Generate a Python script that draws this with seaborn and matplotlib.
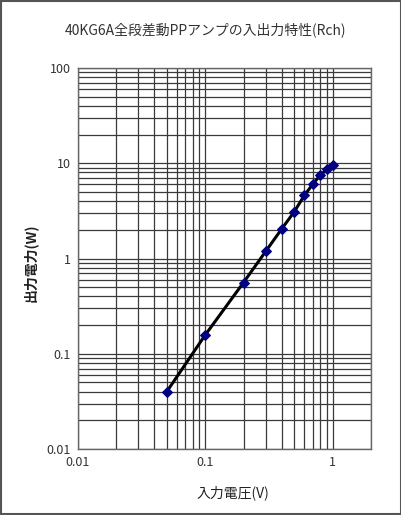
import numpy as np
import pandas as pd
import matplotlib
matplotlib.use("Agg")
import matplotlib.pyplot as plt
import seaborn as sns
from matplotlib.ticker import LogLocator, FixedLocator, NullFormatter

# data
input_v = [0.05, 0.1, 0.2, 0.3, 0.4, 0.5, 0.6, 0.7, 0.8, 0.9, 1.0]
output_w = [0.04, 0.157, 0.56, 1.2, 2.06, 3.1, 4.6, 6.05, 7.5, 8.6, 9.65]
x_ticks = [0.01, 0.1, 1]
x_tick_labels = ["0.01", "0.1", "1"]
y_ticks = [0.01, 0.1, 1, 10, 100]
y_tick_labels = ["0.01", "0.1", "1", "10", "100"]

sns.set_style("white")
plt.rcParams['font.family'] = ['Noto Sans CJK JP', 'DejaVu Sans']

df = pd.DataFrame({"入力電圧(V)": input_v, "出力電力(W)": output_w})

fig = plt.figure(figsize=(4.02, 5.15), dpi=100)
ax = fig.add_axes([0.193, 0.128, 0.730, 0.740])

ax.set_xscale("log")
ax.set_yscale("log")
ax.set_xlim(0.01, 2.0)
ax.set_ylim(0.01, 100)

grid_color = "#3a3a3a"
ax.xaxis.set_minor_locator(LogLocator(base=10, subs=np.arange(2, 10)))
ax.yaxis.set_minor_locator(LogLocator(base=10, subs=np.arange(2, 10)))
ax.xaxis.set_major_locator(FixedLocator(x_ticks))
ax.yaxis.set_major_locator(FixedLocator(y_ticks))
ax.set_xticklabels(x_tick_labels)
ax.set_yticklabels(y_tick_labels)
ax.xaxis.set_minor_formatter(NullFormatter())
ax.yaxis.set_minor_formatter(NullFormatter())
ax.grid(True, which="both", color=grid_color, linewidth=0.9)
ax.tick_params(which="both", length=0, labelsize=9, colors="#333333", pad=5)

sns.lineplot(data=df, x="入力電圧(V)", y="出力電力(W)", ax=ax, color="black",
             linewidth=2.2, marker="D", markersize=5.5, markerfacecolor="#000080",
             markeredgecolor="#000080", zorder=3)

for s in ax.spines.values():
    s.set_color("#666666")
    s.set_linewidth(1.0)

ax.set_xlabel("入力電圧(V)", fontsize=10, color="#222222", labelpad=10)
ax.xaxis.set_label_coords(0.53, -0.095)
ax.set_ylabel("出力電力(W)", fontsize=10, fontweight="bold", color="#222222")
ax.yaxis.set_label_coords(-0.135, 0.49)
fig.text(0.51, 0.942, "40KG6A全段差動PPアンプの入出力特性(Rch)", ha="center", va="center",
         fontsize=10, color="#333333")

fig.patches.append(plt.Rectangle((0.002, 0.002), 0.996, 0.996, transform=fig.transFigure,
                                 fill=False, edgecolor="#555555", linewidth=1.5))

fig.savefig("out.png", dpi=100)
plt.close(fig)
